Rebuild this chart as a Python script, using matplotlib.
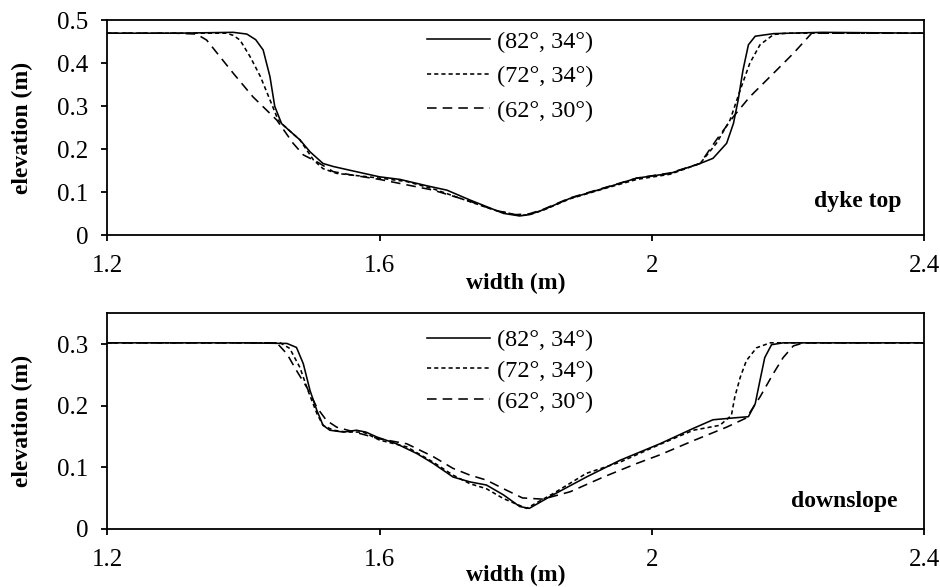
import matplotlib
matplotlib.use("Agg")
import matplotlib.pyplot as plt

plt.rcParams['font.family'] = ['Liberation Serif', 'DejaVu Serif']

# ---------------- data ----------------
labels = ["(82°, 34°)", "(72°, 34°)", "(62°, 30°)"]
x_ticks = [1.2, 1.6, 2.0, 2.4]
x_ticklabels = ["1.2", "1.6", "2", "2.4"]
top_yticks = [0, 0.1, 0.2, 0.3, 0.4, 0.5]
top_yticklabels = ["0", "0.1", "0.2", "0.3", "0.4", "0.5"]
bot_yticks = [0, 0.1, 0.2, 0.3]
bot_yticklabels = ["0", "0.1", "0.2", "0.3"]

# dyke top
top_x_82 = [1.2, 1.30, 1.385, 1.405, 1.418, 1.429, 1.439, 1.446, 1.456, 1.47, 1.483, 1.498, 1.517, 1.532,
            1.56, 1.6, 1.63, 1.67, 1.699, 1.733, 1.76, 1.782, 1.806, 1.82, 1.84, 1.88, 1.929, 1.978, 2.027,
            2.071, 2.090, 2.110, 2.120, 2.127, 2.134, 2.142, 2.152, 2.179, 2.25, 2.4]
top_y_82 = [0.47, 0.47, 0.472, 0.468, 0.455, 0.431, 0.369, 0.30, 0.26, 0.24, 0.222, 0.194, 0.167, 0.16,
            0.15, 0.136, 0.13, 0.115, 0.105, 0.082, 0.065, 0.051, 0.045, 0.048, 0.059, 0.086, 0.109, 0.133, 0.144,
            0.167, 0.179, 0.214, 0.260, 0.315, 0.384, 0.443, 0.463, 0.469, 0.472, 0.47]

top_x_72 = [1.2, 1.30, 1.375, 1.385, 1.395, 1.41, 1.425, 1.439, 1.451, 1.456, 1.47, 1.483, 1.503, 1.517,
            1.537, 1.56, 1.6, 1.64, 1.679, 1.733, 1.77, 1.806, 1.82, 1.84, 1.88, 1.929, 1.978, 2.027, 2.071,
            2.095, 2.115, 2.130, 2.144, 2.159, 2.179, 2.198, 2.4]
top_y_72 = [0.47, 0.47, 0.47, 0.465, 0.454, 0.415, 0.369, 0.315, 0.268, 0.26, 0.24, 0.222, 0.175, 0.155,
            0.144, 0.14, 0.133, 0.125, 0.108, 0.078, 0.058, 0.046, 0.048, 0.058, 0.085, 0.108, 0.13, 0.142, 0.167,
            0.214, 0.268, 0.338, 0.400, 0.443, 0.467, 0.47, 0.47]

top_x_62 = [1.2, 1.30, 1.331, 1.346, 1.385, 1.414, 1.449, 1.473, 1.488, 1.508, 1.532, 1.56, 1.6, 1.679,
            1.733, 1.77, 1.80, 1.82, 1.84, 1.88, 1.929, 1.978, 2.027, 2.071, 2.095, 2.120, 2.144, 2.179,
            2.208, 2.235, 2.4]
top_y_62 = [0.47, 0.47, 0.468, 0.454, 0.377, 0.322, 0.268, 0.214, 0.187, 0.171, 0.148, 0.14, 0.13, 0.105,
            0.079, 0.058, 0.048, 0.05, 0.06, 0.087, 0.11, 0.133, 0.145, 0.167, 0.222, 0.276, 0.322, 0.377,
            0.423, 0.47, 0.47]

# downslope
bot_x_82 = [1.2, 1.40, 1.464, 1.478, 1.488, 1.498, 1.508, 1.517, 1.527, 1.547, 1.566, 1.58, 1.596, 1.625,
            1.655, 1.679, 1.708, 1.733, 1.757, 1.782, 1.806, 1.82, 1.855, 1.904, 1.953, 2.012, 2.061, 2.090,
            2.120, 2.142, 2.152, 2.159, 2.166, 2.176, 2.193, 2.4]
bot_y_82 = [0.302, 0.302, 0.301, 0.2945, 0.268, 0.224, 0.192, 0.168, 0.160, 0.157, 0.160, 0.157, 0.149, 0.138,
            0.122, 0.106, 0.084, 0.076, 0.071, 0.055, 0.036, 0.033, 0.055, 0.084, 0.111, 0.138, 0.163, 0.177,
            0.180, 0.182, 0.203, 0.241, 0.278, 0.299, 0.302, 0.302]

bot_x_72 = [1.2, 1.40, 1.454, 1.468, 1.483, 1.495, 1.508, 1.517, 1.532, 1.552, 1.576, 1.6, 1.64, 1.679,
            1.708, 1.733, 1.757, 1.782, 1.816, 1.855, 1.904, 1.953, 2.012, 2.061, 2.100, 2.117, 2.122, 2.130,
            2.139, 2.154, 2.174, 2.4]
bot_y_72 = [0.302, 0.302, 0.302, 0.293, 0.262, 0.224, 0.187, 0.168, 0.16, 0.157, 0.157, 0.144, 0.133, 0.108,
            0.087, 0.073, 0.065, 0.049, 0.033, 0.057, 0.09, 0.108, 0.137, 0.16, 0.168, 0.184, 0.214, 0.246,
            0.273, 0.294, 0.302, 0.302]

bot_x_62 = [1.2, 1.40, 1.449, 1.464, 1.478, 1.493, 1.508, 1.522, 1.537, 1.56, 1.6, 1.64, 1.679, 1.708,
            1.733, 1.757, 1.782, 1.81, 1.84, 1.88, 1.929, 1.978, 2.012, 2.061, 2.110, 2.139, 2.159, 2.178,
            2.193, 2.208, 2.223, 2.4]
bot_y_62 = [0.302, 0.302, 0.302, 0.284, 0.257, 0.23, 0.197, 0.176, 0.165, 0.158, 0.146, 0.138, 0.117, 0.098,
            0.087, 0.079, 0.065, 0.05, 0.048, 0.06, 0.084, 0.106, 0.12, 0.143, 0.165, 0.180, 0.214, 0.251,
            0.278, 0.297, 0.302, 0.302]

# ---------------- styling ----------------
W, H = 940, 587
fig = plt.figure(figsize=(W / 100, H / 100), dpi=100)

def px_axes(left, top, right, bottom):
    return fig.add_axes([left / W, 1 - bottom / H, (right - left) / W, (bottom - top) / H])

styles = [dict(ls='-'), dict(ls=(0, (2.6, 1.9))), dict(ls=(0, (6.0, 3.8)))]
LW = 1.15
TICK_FS = 18
LEG_FS = 17.5
LAB_FS = 17

def style_axes(ax, yticks, yticklabels, ylim, xlab_y):
    ax.set_xlim(1.2, 2.4)
    ax.set_ylim(*ylim)
    ax.set_xticks(x_ticks)
    ax.set_xticklabels(x_ticklabels)
    ax.set_yticks(yticks)
    ax.set_yticklabels(yticklabels)
    for s in ax.spines.values():
        s.set_linewidth(1.3)
    ax.tick_params(axis='both', direction='out', length=4.5, width=1.3, labelsize=TICK_FS)
    ax.tick_params(axis='x', pad=10)
    ax.tick_params(axis='y', pad=9)
    ax.set_xlabel("width (m)", fontsize=LAB_FS, fontweight='bold')
    ax.xaxis.set_label_coords(0.5, xlab_y)
    ax.xaxis.label.set_va('center')
    ax.set_ylabel("elevation (m)", fontsize=LAB_FS, fontweight='bold')
    ax.yaxis.set_label_coords(-0.104, 0.5)
    ax.yaxis.label.set_va('center')

# top panel
ax1 = px_axes(107.3, 20.3, 924, 235.3)
for xs, ys, lab, st in zip([top_x_82, top_x_72, top_x_62], [top_y_82, top_y_72, top_y_62], labels, styles):
    ax1.plot(xs, ys, color='black', lw=LW, label=lab, **st)
style_axes(ax1, top_yticks, top_yticklabels, (0, 0.5), -0.222)
ax1.legend(loc='upper left', bbox_to_anchor=((427 - 107.3) / 816.7, 0.952), frameon=False,
           fontsize=LEG_FS, handlelength=2.6, handletextpad=0.29, labelspacing=0.52,
           borderpad=0, borderaxespad=0)
ax1.text(0.973, 0.155, "dyke top", transform=ax1.transAxes, ha='right', va='center',
         fontsize=LAB_FS, fontweight='bold')

# bottom panel
ax2 = px_axes(107.3, 313.3, 924, 528.7)
for xs, ys, lab, st in zip([bot_x_82, bot_x_72, bot_x_62], [bot_y_82, bot_y_72, bot_y_62], labels, styles):
    ax2.plot(xs, ys, color='black', lw=LW, label=lab, **st)
style_axes(ax2, bot_yticks, bot_yticklabels, (0, 0.35), -0.218)
ax2.legend(loc='upper left', bbox_to_anchor=((427 - 107.3) / 816.7, 0.927), frameon=False,
           fontsize=LEG_FS, handlelength=2.6, handletextpad=0.29, labelspacing=0.36,
           borderpad=0, borderaxespad=0)
ax2.text(0.968, 0.124, "downslope", transform=ax2.transAxes, ha='right', va='center',
         fontsize=LAB_FS, fontweight='bold')

fig.savefig("out.png", dpi=100)
